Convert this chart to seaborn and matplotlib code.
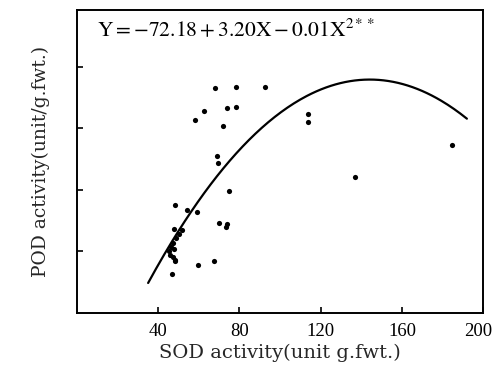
import numpy as np
import pandas as pd
import matplotlib
matplotlib.use("Agg")
import matplotlib.pyplot as plt
import matplotlib.transforms as mtransforms
import seaborn as sns

# Scatter data (SOD activity vs POD activity)
sod = [68.0, 78.3, 92.8, 62.7, 58.3, 74.0, 78.5, 72.1, 69.1, 69.6,
       113.6, 113.6, 184.6, 136.9, 74.7, 48.1, 54.0, 59.1, 69.8, 73.3,
       74.0, 47.9, 51.7, 50.2, 48.8, 47.3, 46.3, 45.3, 45.8, 47.3,
       48.3, 47.8, 48.1, 59.8, 67.5, 46.8]
pod = [146.3, 147.2, 147.0, 131.2, 125.5, 133.1, 134.0, 121.8, 101.9, 97.8,
       129.6, 124.2, 109.1, 88.3, 79.5, 70.4, 67.2, 65.5, 58.3, 56.1,
       57.7, 54.6, 54.0, 51.4, 48.8, 45.5, 42.9, 40.3, 37.7, 36.4,
       34.5, 41.6, 33.8, 31.4, 34.0, 25.4]

# Quadratic regression curve as drawn (a + b*X + c*X^2) and its x range
curve_coef = [-78.9, 3.20, -0.0111]
curve_range = [35, 192]

x_ticks = [40, 80, 120, 160, 200]
y_ticks = [40, 80, 120, 160]
equation = r"$\mathrm{Y=-72.18+3.20X-0.01X^{2**}}$"
x_label = "SOD activity(unit g.fwt.)"
y_label = "POD activity(unit/g.fwt.)"

sns.set_theme(style="ticks")
plt.rcParams["font.family"] = ["Liberation Serif", "DejaVu Serif"]
plt.rcParams["mathtext.fontset"] = "stix"

fig = plt.figure(figsize=(4.94, 3.76), dpi=100)
ax = fig.add_axes([0.156, 0.1676, 0.822, 0.806])

df = pd.DataFrame({"SOD": sod, "POD": pod})
sns.scatterplot(data=df, x="SOD", y="POD", ax=ax, color="black",
                s=14, edgecolor="black", linewidth=0)

xc = np.linspace(curve_range[0], curve_range[1], 200)
yc = curve_coef[0] + curve_coef[1] * xc + curve_coef[2] * xc ** 2
sns.lineplot(x=xc, y=yc, ax=ax, color="black", linewidth=1.6)

ax.set_xlim(0, 200)
ax.set_ylim(0, 197)
ax.set_xticks(x_ticks)
ax.set_xticklabels([str(t) for t in x_ticks], fontsize=13.5)
ax.set_yticks(y_ticks)
ax.set_yticklabels([])
ax.tick_params(axis="both", direction="in", length=4, width=1.2, colors="black")
ax.tick_params(axis="x", pad=7)
for sp in ax.spines.values():
    sp.set_visible(True)
    sp.set_color("black")
    sp.set_linewidth(1.4)

# keep the last tick label inside the figure, as in the reference
last = ax.get_xticklabels()[-1]
last.set_transform(last.get_transform() +
                   mtransforms.ScaledTranslation(-5 / 100, 0, fig.dpi_scale_trans))

ax.set_xlabel(x_label, fontsize=14, labelpad=3, family="DejaVu Serif")
ax.set_ylabel(y_label, fontsize=13.5, labelpad=16, family="DejaVu Serif")

ax.text(0.05, 0.935, equation, transform=ax.transAxes, fontsize=15.5,
        ha="left", va="center", color="black")

fig.savefig("out.png", dpi=100)
